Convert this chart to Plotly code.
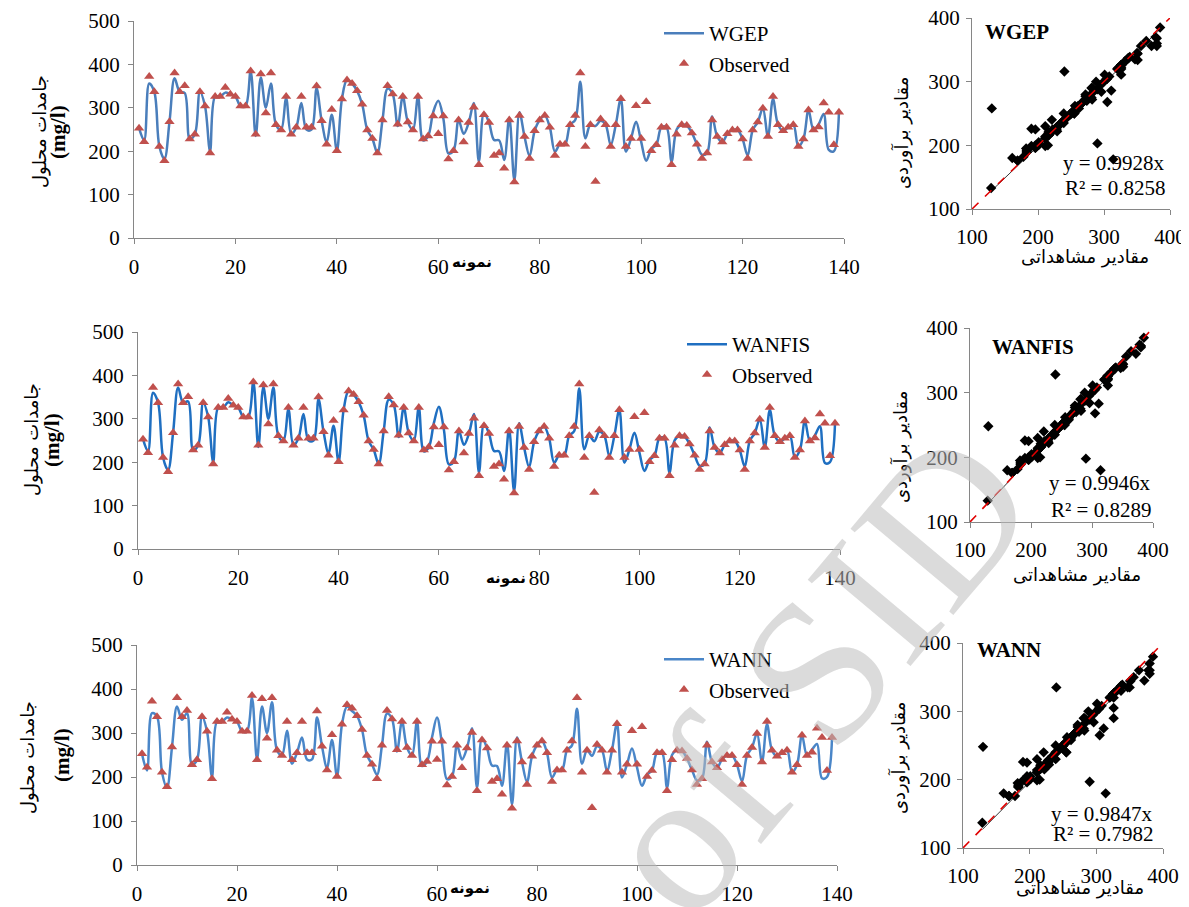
import plotly.graph_objects as go

# page body adds an 8px margin: draw the figure 8px smaller and shift reference pixels by 8
OFF = 8
W, H = 1189 - OFF, 907 - OFF

sample = list(range(1, 140))
observed = [253, 222, 372, 337, 211, 178, 268, 380, 337, 351,
            228, 239, 337, 304, 196, 326, 326, 347, 331, 326,
            304, 304, 385, 239, 378, 288, 380, 261, 249, 326,
            239, 255, 326, 255, 255, 350, 270, 216, 296, 201,
            320, 364, 356, 339, 308, 249, 229, 196, 272, 351,
            332, 262, 326, 267, 249, 326, 228, 235, 281, 240,
            281, 182, 201, 272, 221, 266, 301, 169, 284, 266,
            190, 196, 161, 272, 129, 282, 234, 183, 247, 272,
            282, 255, 190, 216, 216, 261, 282, 380, 211, 261,
            130, 274, 261, 211, 261, 321, 211, 229, 305, 229,
            314, 201, 215, 255, 255, 169, 239, 261, 259, 242,
            216, 183, 196, 272, 234, 221, 240, 249, 249, 228,
            183, 249, 267, 299, 234, 326, 261, 247, 255, 261,
            211, 228, 295, 249, 256, 311, 290, 215, 290]
wgep = [253, 225, 356, 337, 211, 182, 268, 368, 337, 334,
        228, 239, 337, 304, 200, 326, 326, 335, 331, 326,
        304, 304, 385, 235, 370, 300, 356, 261, 249, 322,
        239, 255, 311, 250, 250, 345, 270, 221, 284, 201,
        320, 364, 356, 339, 308, 249, 229, 196, 272, 344,
        332, 258, 326, 267, 249, 326, 225, 235, 290, 316,
        275, 195, 201, 272, 240, 266, 311, 176, 288, 266,
        226, 225, 180, 277, 133, 290, 234, 189, 247, 272,
        282, 255, 199, 216, 216, 261, 272, 360, 230, 261,
        258, 270, 261, 214, 261, 321, 199, 229, 268, 222,
        178, 205, 215, 255, 255, 176, 250, 261, 259, 242,
        216, 192, 196, 280, 234, 221, 240, 249, 249, 228,
        190, 249, 267, 299, 234, 320, 261, 247, 255, 261,
        211, 228, 295, 249, 262, 286, 203, 200, 288]
wanfis = [253, 225, 360, 337, 211, 182, 268, 372, 337, 340,
          228, 239, 337, 304, 200, 326, 326, 338, 331, 326,
          304, 304, 385, 235, 374, 300, 372, 261, 249, 322,
          239, 255, 311, 250, 250, 345, 270, 221, 284, 201,
          320, 364, 356, 339, 308, 249, 229, 196, 272, 344,
          332, 258, 326, 267, 249, 326, 225, 235, 290, 328,
          275, 195, 201, 272, 240, 266, 311, 176, 288, 266,
          226, 225, 180, 277, 133, 290, 234, 189, 247, 272,
          282, 255, 199, 216, 216, 261, 272, 370, 230, 261,
          248, 270, 261, 214, 261, 321, 199, 229, 268, 222,
          180, 205, 215, 255, 255, 176, 250, 261, 259, 242,
          216, 192, 196, 280, 234, 221, 240, 249, 249, 228,
          190, 249, 267, 299, 234, 320, 261, 247, 255, 261,
          211, 228, 295, 249, 262, 283, 198, 200, 288]
wann = [253, 215, 345, 337, 211, 176, 268, 360, 330, 345,
        228, 239, 337, 304, 200, 326, 326, 335, 331, 326,
        304, 304, 380, 240, 360, 300, 370, 261, 249, 305,
        230, 255, 290, 240, 240, 335, 270, 221, 284, 201,
        320, 360, 350, 339, 308, 249, 229, 205, 272, 344,
        332, 258, 326, 267, 249, 326, 225, 235, 290, 335,
        275, 195, 201, 272, 240, 266, 311, 176, 288, 266,
        226, 225, 180, 277, 137, 290, 234, 189, 247, 272,
        282, 255, 199, 216, 216, 261, 272, 355, 230, 261,
        248, 270, 261, 214, 261, 321, 199, 229, 265, 222,
        180, 205, 215, 255, 255, 176, 250, 261, 259, 242,
        216, 192, 196, 280, 234, 221, 240, 249, 249, 228,
        190, 249, 267, 299, 234, 320, 261, 247, 255, 261,
        211, 228, 295, 249, 262, 275, 197, 200, 288]

models = ["WGEP", "WANFIS", "WANN"]
predictions = [wgep, wanfis, wann]
slopes = [0.9928, 0.9946, 0.9847]
r2 = [0.8258, 0.8289, 0.7982]
line_colors = ["#4a7ebb", "#1f6fc1", "#4a86c8"]

ts_xticks = [0, 20, 40, 60, 80, 100, 120, 140]
ts_yticks = [0, 100, 200, 300, 400, 500]
sc_ticks = [100, 200, 300, 400]
diag = [100, 400]

# pixel frames in reference coordinates: (x_left, x_right, y_top, y_bottom)
ts_frames = [(134, 844, 21, 238), (138, 840, 332, 549), (137, 837, 645, 865)]
sc_frames = [(972, 1170, 18, 209), (970, 1153, 328, 522), (963, 1163, 643, 848)]

def px(x):
    return (x - OFF) / W

def py(y):
    return 1 - (y - OFF) / H

def xd(a, b):
    return [px(a), px(b)]

def yd(top, bot):
    return [py(bot), py(top)]

SERIF = "Liberation Serif"
ARAB = "DejaVu Sans"
AXC = "#868686"

fig = go.Figure()
layout = dict(width=W, height=H, margin=dict(l=0, r=0, t=0, b=0, autoexpand=False),
              paper_bgcolor="white", plot_bgcolor="white", showlegend=True)
annotations = []

def axis_common():
    return dict(showgrid=False, zeroline=False, showline=True, linecolor=AXC, linewidth=1,
                ticks="outside", ticklen=5, tickcolor=AXC, automargin=False,
                ticklabeloverflow="allow",
                tickfont=dict(family=SERIF, size=21, color="black"))

legend_pos = [(659, 13), (682, 324), (659, 639)]

for k in range(3):
    n_ts = 2 * k + 1
    n_sc = 2 * k + 2
    xa_ts = "x" if n_ts == 1 else f"x{n_ts}"
    ya_ts = "y" if n_ts == 1 else f"y{n_ts}"
    xa_sc, ya_sc = f"x{n_sc}", f"y{n_sc}"
    leg = "legend" if k == 0 else f"legend{k + 1}"

    fig.add_trace(go.Scatter(x=sample, y=predictions[k], mode="lines", name=models[k],
                             line=dict(color=line_colors[k], width=2.5, shape="spline", smoothing=1.0),
                             xaxis=xa_ts, yaxis=ya_ts, legend=leg))
    fig.add_trace(go.Scatter(x=sample, y=observed, mode="markers", name="Observed",
                             marker=dict(symbol="triangle-up", size=9, color="#c0504d"),
                             xaxis=xa_ts, yaxis=ya_ts, legend=leg))

    fig.add_trace(go.Scatter(x=observed, y=predictions[k], mode="markers", showlegend=False,
                             marker=dict(symbol="diamond", size=8, color="black"),
                             xaxis=xa_sc, yaxis=ya_sc))
    tx = [min(observed), max(observed)]
    fig.add_trace(go.Scatter(x=tx, y=[v * slopes[k] for v in tx], mode="lines", showlegend=False,
                             line=dict(color="black", width=0.8), xaxis=xa_sc, yaxis=ya_sc))
    fig.add_trace(go.Scatter(x=diag, y=diag, mode="lines", showlegend=False,
                             line=dict(color="#e00000", width=1.6, dash="dash"),
                             xaxis=xa_sc, yaxis=ya_sc))

    l, r, t, b = ts_frames[k]
    key_x = "xaxis" if n_ts == 1 else f"xaxis{n_ts}"
    key_y = "yaxis" if n_ts == 1 else f"yaxis{n_ts}"
    layout[key_x] = dict(axis_common(), domain=xd(l, r), range=[0, 140], tickvals=ts_xticks,
                         anchor=ya_ts, ticklabelstandoff=5)
    layout[key_y] = dict(axis_common(), domain=yd(t, b), range=[0, 500], tickvals=ts_yticks,
                         anchor=xa_ts, ticklabelstandoff=4)

    l2, r2_, t2, b2 = sc_frames[k]
    layout[f"xaxis{n_sc}"] = dict(axis_common(), domain=xd(l2, r2_), range=[100, 400],
                                  tickvals=sc_ticks, anchor=ya_sc, ticklabelstandoff=4)
    layout[f"yaxis{n_sc}"] = dict(axis_common(), domain=yd(t2, b2), range=[100, 400],
                                  tickvals=sc_ticks, anchor=xa_sc, ticklabelstandoff=2)

    lx, ly = legend_pos[k]
    layout[leg] = dict(x=px(lx), y=py(ly), xanchor="left", yanchor="top",
                       bgcolor="rgba(0,0,0,0)", font=dict(family=SERIF, size=21, color="black"),
                       tracegroupgap=0, itemwidth=40)

# texts (reference pixel positions)
ylab_pos = [((40, 132), (58, 132)), ((32, 440), (52, 440)), ((28, 758), (62, 755))]
xlab_pos = [(472, 262), (506, 578), (470, 888)]
sc_title_pos = [(983, 32), (990, 347), (975, 650)]
eq_pos = [(1167, 163, 188), (1153, 483, 510), (1155, 814, 834)]
sc_ylab = [(902, 133), (900, 447), (898, 758)]
sc_xlab = [(1085, 257), (1077, 575), (1080, 888)]

def ann(x, y, text, **kw):
    d = dict(x=px(x), y=py(y), xref="paper", yref="paper", text=text, showarrow=False,
             xanchor="center", yanchor="middle")
    d.update(kw)
    annotations.append(d)

for k in range(3):
    (ax1, ay1), (ax2, ay2) = ylab_pos[k]
    ann(ax1, ay1, "جامدات محلول", textangle=-90, font=dict(family=ARAB, size=18, color="black"))
    ann(ax2, ay2, "<b>(mg/l)</b>", textangle=-90, font=dict(family=SERIF, size=21, color="black"))
    ann(xlab_pos[k][0], xlab_pos[k][1], "<b>نمونه</b>", font=dict(family=ARAB, size=15, color="black"))
    ann(sc_title_pos[k][0], sc_title_pos[k][1], f"<b>{models[k]}</b>", xanchor="left",
        font=dict(family=SERIF, size=21, color="black"))
    ex, ey1, ey2 = eq_pos[k]
    ann(ex, ey1, f"y = {slopes[k]:.4f}x", xanchor="right", font=dict(family=SERIF, size=21, color="black"))
    ann(ex, ey2, f"R² = {r2[k]:.4f}", xanchor="right", font=dict(family=SERIF, size=21, color="black"))
    ann(sc_ylab[k][0], sc_ylab[k][1], "مقادیر برآوردی", textangle=-90,
        font=dict(family=ARAB, size=18, color="black"))
    ann(sc_xlab[k][0], sc_xlab[k][1], "مقادیر مشاهداتی", font=dict(family=ARAB, size=18, color="black"))

# watermark
ann(585, 945, "Archive of SID", textangle=-50,
    font=dict(family=SERIF, size=205, color="rgba(190,190,190,0.55)"))

layout["annotations"] = annotations
fig.update_layout(**layout)
fig.write_html("out.html")
